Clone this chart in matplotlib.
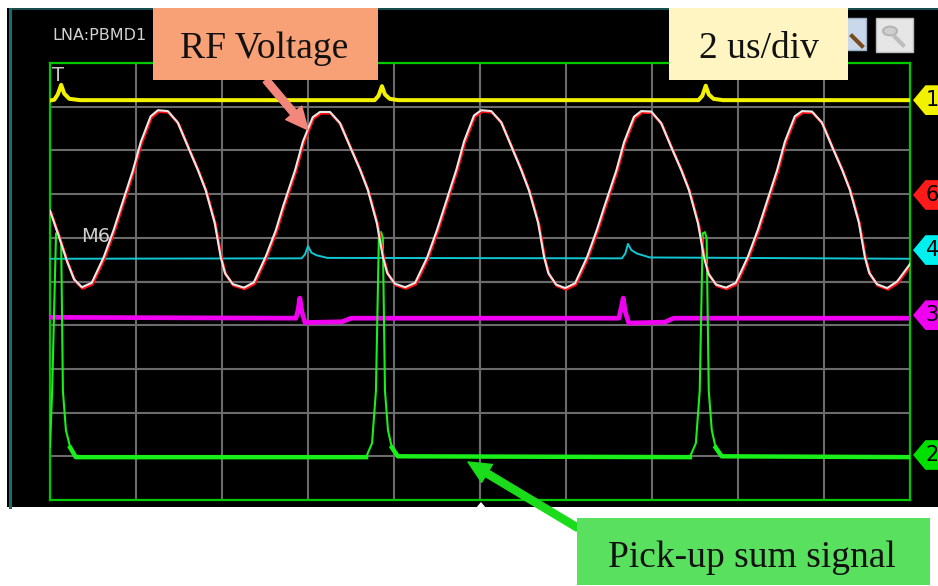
import matplotlib
matplotlib.use("Agg")
import matplotlib.pyplot as plt
import numpy as np
from matplotlib.patches import Rectangle, Polygon, Circle
from matplotlib.patches import ConnectionPatch
from matplotlib.lines import Line2D
import matplotlib.transforms as mtransforms

# time axis in us (2 us/div, 10 div), levels in screen divisions
rf_t = [0.00, 0.20, 0.40, 0.56,
        0.74, 0.97, 1.25, 1.48, 1.65, 1.93, 2.11, 2.34, 2.51, 2.74, 2.97, 3.21, 3.44, 3.62, 3.83, 3.97, 4.07, 4.25,
        4.51, 4.74, 5.02, 5.25, 5.42, 5.70, 5.88, 6.11, 6.28, 6.51, 6.74, 6.98, 7.21, 7.39, 7.60, 7.74, 7.84, 8.02,
        8.26, 8.49, 8.77, 9.00, 9.17, 9.45, 9.63, 9.86, 10.03, 10.26, 10.49, 10.73, 10.96, 11.14, 11.35, 11.49, 11.59, 11.77,
        11.98, 12.21, 12.49, 12.72, 12.89, 13.17, 13.35, 13.58, 13.75, 13.98, 14.21, 14.45, 14.68, 14.86, 15.07, 15.21, 15.31, 15.49,
        15.72, 15.95, 16.23, 16.46, 16.63, 16.91, 17.09, 17.32, 17.49, 17.72, 17.95, 18.19, 18.42, 18.60, 18.81, 18.95, 19.05, 19.23,
        19.47, 19.70, 20.00]
rf_v = [6.62, 6.05, 5.45, 5.05,
        4.87, 4.97, 5.56, 6.18, 6.70, 7.55, 8.19, 8.78, 8.92, 8.90, 8.64, 8.08, 7.55, 7.09, 6.34, 5.56, 5.19, 4.94,
        4.86, 4.98, 5.58, 6.17, 6.72, 7.55, 8.20, 8.76, 8.88, 8.88, 8.63, 8.08, 7.56, 7.10, 6.34, 5.57, 5.20, 4.95,
        4.87, 4.97, 5.55, 6.18, 6.70, 7.56, 8.21, 8.80, 8.92, 8.90, 8.65, 8.09, 7.55, 7.08, 6.35, 5.56, 5.19, 4.93,
        4.85, 4.96, 5.56, 6.19, 6.71, 7.54, 8.19, 8.77, 8.90, 8.89, 8.63, 8.07, 7.55, 7.09, 6.33, 5.55, 5.18, 4.93,
        4.86, 4.97, 5.57, 6.18, 6.70, 7.55, 8.20, 8.78, 8.90, 8.89, 8.64, 8.08, 7.56, 7.10, 6.35, 5.56, 5.20, 4.94,
        4.85, 5.00, 5.40]

ch1_t = [0.00, 0.10, 0.18, 0.26, 0.33, 0.45, 0.70, 7.55, 7.64, 7.72, 7.79, 7.90, 8.10,
         15.08, 15.17, 15.25, 15.32, 15.43, 15.65, 20.00]
ch1_v = [9.14, 9.16, 9.28, 9.50, 9.30, 9.18, 9.15, 9.15, 9.25, 9.47, 9.28, 9.18, 9.15,
         9.15, 9.25, 9.48, 9.28, 9.18, 9.15, 9.15]

ch4_t = [0.00, 5.85, 5.93, 6.00, 6.08, 6.20, 6.45, 13.30, 13.38, 13.44, 13.52, 13.65, 13.95, 20.00]
ch4_v = [5.52, 5.53, 5.62, 5.81, 5.66, 5.60, 5.54, 5.53, 5.64, 5.86, 5.72, 5.64, 5.55, 5.52]

ch3_t = [0.00, 5.72, 5.77, 5.81, 5.86, 5.93, 6.80, 7.00, 13.23, 13.28, 13.33, 13.38, 13.46, 14.30, 14.50, 20.00]
ch3_v = [4.18, 4.16, 4.35, 4.62, 4.30, 4.06, 4.08, 4.16, 4.16, 4.38, 4.62, 4.30, 4.05, 4.07, 4.16, 4.16]

ch2_t = [0.00, 0.05, 0.14, 0.19, 0.26, 0.30, 0.37, 0.47, 0.60,
         7.35, 7.49, 7.58, 7.65, 7.70, 7.74, 7.79, 7.86, 7.95, 8.09,
         14.88, 15.02, 15.11, 15.18, 15.23, 15.27, 15.32, 15.39, 15.48, 15.62, 20.00]
ch2_v = [1.21, 2.50, 6.10, 6.13, 5.90, 2.50, 1.60, 1.20, 0.98,
         0.98, 1.30, 2.50, 6.10, 6.13, 6.00, 2.50, 1.60, 1.20, 1.00,
         0.98, 1.30, 2.50, 6.10, 6.13, 6.00, 2.50, 1.60, 1.20, 1.00, 0.98]

tag_names = ['1', '6', '4', '3', '2']
tag_levels = [9.15, 6.98, 5.72, 4.23, 1.03]
tag_colors = ['#f2f200', '#ff1a1a', '#00f0f0', '#f000f0', '#00e000']

W, H = 938, 586
fx = lambda px: px / W
fy = lambda py: 1 - py / H

fig = plt.figure(figsize=(W / 100, H / 100), dpi=100, facecolor='white')

# scope window
fig.add_artist(Rectangle((fx(7), fy(507)), 1.0, fy(8) - fy(507), transform=fig.transFigure,
                         facecolor='black', edgecolor='none', zorder=-2))
fig.add_artist(Line2D([fx(10), fx(10)], [fy(507), fy(9)], transform=fig.transFigure,
                      color='#1e6b6b', lw=2.2, zorder=-1))
fig.add_artist(Line2D([fx(10), 1.0], [fy(8.5), fy(8.5)], transform=fig.transFigure,
                      color='#1e5d5d', lw=1.2, zorder=-1))

ax = fig.add_axes([fx(50), fy(500), (910 - 50) / W, (500 - 63) / H])
ax.set_facecolor('black')
ax.set_xlim(0, 20)
ax.set_ylim(0, 10)
ax.set_xticks(np.arange(0, 21, 2))
ax.set_yticks(np.arange(0, 11, 1))
ax.tick_params(length=0, labelbottom=False, labelleft=False)
ax.grid(color='#6b6b6b', lw=1.5)
ax.axvline(10, color='#b4b4b4', lw=1.5, zorder=1)
ax.axhline(5, color='#a8a8a8', lw=1.5, zorder=1)
for s in ax.spines.values():
    s.set_color('#00c800')
    s.set_linewidth(1.6)

ax.plot(ch1_t, ch1_v, color='#f2f200', lw=2.9, zorder=3)
ax.plot(ch3_t, ch3_v, color='#f000f0', lw=3.4, zorder=3)
ax.plot(ch4_t, ch4_v, color='#10c8d4', lw=1.4, zorder=3)
ax.plot(ch2_t, ch2_v, color='#19f019', lw=1.5, zorder=3)
ch2_base = np.ma.masked_where(np.array(ch2_v) > 1.25, ch2_v)
ax.plot(ch2_t, ch2_base, color='#19f019', lw=3.2, zorder=3)

# channel 6 with its stored copy M6 on top
shift = mtransforms.offset_copy(ax.transData, fig=fig, x=0.8, y=-1.3, units='dots')
ax.plot(rf_t, rf_v, color='#ff1010', lw=2.0, zorder=4, transform=shift)
ax.plot(rf_t, rf_v, color='#e8e8e8', lw=1.5, zorder=5)

ax.text(0.0093, 0.972, 'T', transform=ax.transAxes, color='#c8c8c8', fontsize=14,
        ha='center', va='center', zorder=6)
ax.text(0.0535, 0.602, 'M6', transform=ax.transAxes, color='#cfcfcf', fontsize=14,
        ha='center', va='center', zorder=6)

# channel tags on the right edge
tr = mtransforms.blended_transform_factory(ax.transAxes, ax.transData)
for name, lvl, col in zip(tag_names, tag_levels, tag_colors):
    h = 0.34
    poly = Polygon([(1.0035, lvl), (1.018, lvl + h), (1.06, lvl + h), (1.06, lvl - h), (1.018, lvl - h)],
                   closed=True, transform=tr, facecolor=col, edgecolor='none', clip_on=False, zorder=6)
    ax.add_patch(poly)
    ax.text(1.026, lvl, name, transform=tr, color='black', fontsize=15,
            ha='center', va='center', clip_on=False, zorder=7)

# trigger position marker
fig.add_artist(Polygon([(fx(476), fy(508)), (fx(486), fy(508)), (fx(481), fy(502))],
                       transform=fig.transFigure, facecolor='white', edgecolor='none', zorder=3))

fig.text(fx(52), fy(35), 'LNA:PBMD1', color='#d2d2d2', fontsize=11.5, va='center', ha='left')

# zoom buttons
fig.add_artist(Rectangle((fx(846), fy(50)), fx(866) - fx(846), fy(18) - fy(50), transform=fig.transFigure,
                         facecolor='#c9d8ea', edgecolor='#9fb2c8', lw=1, zorder=3))
fig.add_artist(Line2D([fx(852), fx(862)], [fy(36), fy(46)], transform=fig.transFigure,
                      color='#7a4a20', lw=3, zorder=4))
fig.add_artist(Rectangle((fx(876), fy(52)), fx(913) - fx(876), fy(18) - fy(52), transform=fig.transFigure,
                         facecolor='#e6e6e6', edgecolor='#bdbdbd', lw=1, zorder=3))
fig.add_artist(Circle((fx(890), fy(31)), 7 / W, transform=fig.transFigure,
                      facecolor='#cfcfcf', edgecolor='#b5b5b5', lw=1.5, zorder=4))
fig.add_artist(Line2D([fx(895), fx(903)], [fy(37), fy(45)], transform=fig.transFigure,
                      color='#bdbdbd', lw=3, zorder=4))

# call-out boxes
serif = ['Liberation Serif', 'DejaVu Serif']
boxes = [((153, 8, 378, 80), '#f9a176', 'RF Voltage', 264, 58),
         ((669, 8, 848, 80), '#fff5c2', '2 us/div', 759, 58),
         ((577, 518, 930, 585), '#59e05e', 'Pick-up sum signal', 752, 567)]
for (x0, y0, x1, y1), col, label, tx, ty in boxes:
    fig.add_artist(Rectangle((fx(x0), fy(y1)), fx(x1) - fx(x0), fy(y0) - fy(y1), transform=fig.transFigure,
                             facecolor=col, edgecolor='none', zorder=8))
    fig.text(fx(tx), fy(ty), label, family=serif, fontsize=27, color='#111111',
             ha='center', va='baseline', zorder=9)

arrow_style = 'simple,tail_width=0.26,head_width=0.75,head_length=0.8'
fig.add_artist(ConnectionPatch(xyA=(266, H - 80), coordsA='figure pixels', xyB=(6.0, 8.47), coordsB='data',
                               axesB=ax, arrowstyle=arrow_style, mutation_scale=20,
                               color='#f4877c', zorder=7))
fig.add_artist(ConnectionPatch(xyA=(578, H - 528), coordsA='figure pixels', xyB=(9.72, 0.87), coordsB='data',
                               axesB=ax, arrowstyle=arrow_style, mutation_scale=20,
                               color='#1adc1a', zorder=7))

fig.savefig('out.png', dpi=100, facecolor='white')
plt.close(fig)
